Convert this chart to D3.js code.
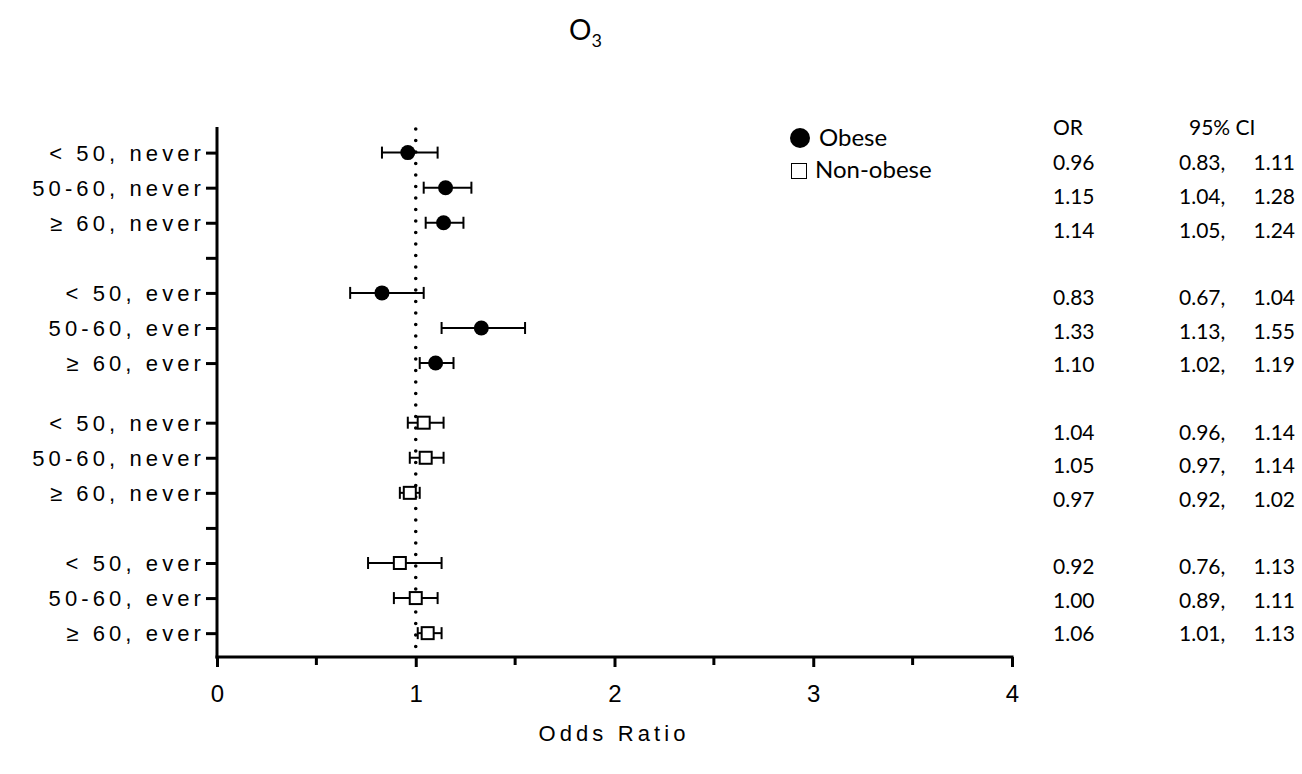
<!DOCTYPE html>
<html>
<head>
<meta charset="utf-8">
<script src="https://cdn.jsdelivr.net/npm/d3@7"></script>
<style>
	body { margin: 0; background: #fff; }
	svg text { fill: #000; }
	.axis-label { font-family: "Liberation Sans", Arial, sans-serif; font-size: 22px; letter-spacing: 4.1px; }
	.tab { font-family: Lato, "Open Sans", sans-serif; font-size: 21px; }
	.leg { font-family: Lato, "Open Sans", sans-serif; font-size: 24px; }
</style>
</head>
<body>
<div id="graphic"></div>
<script>
// rows, top to bottom, per group
const rowLabels = ["< 50, never", "50-60, never", "\u2265 60, never", "< 50, ever", "50-60, ever", "\u2265 60, ever"];
const groups = ["Obese", "Non-obese"];

// odds ratios and 95% CI per group, same row order as rowLabels
const obeseOR = [0.96, 1.15, 1.14, 0.83, 1.33, 1.10];
const obeseLo = [0.83, 1.04, 1.05, 0.67, 1.13, 1.02];
const obeseHi = [1.11, 1.28, 1.24, 1.04, 1.55, 1.19];

const nonObeseOR = [1.04, 1.05, 0.97, 0.92, 1.00, 1.06];
const nonObeseLo = [0.96, 0.97, 0.92, 0.76, 0.89, 1.01];
const nonObeseHi = [1.14, 1.14, 1.02, 1.13, 1.11, 1.13];

const xTicks = [0, 1, 2, 3, 4];
const xMinorTicks = [0.5, 1.5, 2.5, 3.5];

const width = 1302, height = 774;
const svg = d3.select('#graphic').append('svg').attr('width', width).attr('height', height);

// slot positions: blank slot between never/ever, wider gap between groups
let slots = [];
let blankSlots = [];
let s = 0;
const groupGap = 1.7;
groups.forEach((g, gi) => {
	const ors = gi == 0 ? obeseOR : nonObeseOR;
	const los = gi == 0 ? obeseLo : nonObeseLo;
	const his = gi == 0 ? obeseHi : nonObeseHi;
	rowLabels.forEach((lab, i) => {
		if (i == 3) { blankSlots.push(s); s += 1; }
		slots.push({ pos: s, label: lab, group: g, or: ors[i], lo: los[i], hi: his[i] });
		s += 1;
	});
	s += groupGap - 1;
});
// the table on the right runs on its own even spacing (one empty line per block of three)
slots.forEach((d, i) => { d.tabRow = i + Math.floor(i / 3); });

const x = d3.scaleLinear().domain([0, 4]).range([217, 1012]);
const y = d3.scaleLinear().domain([-0.73, 14.38]).range([127, 657]);
const yTab = d3.scaleLinear().domain([0, 14]).range([163, 634]);

// y axis
const yAxis = d3.axisLeft(y)
	.tickValues(slots.map(d => d.pos).concat(blankSlots))
	.tickSize(11)
	.tickPadding(1)
	.tickFormat(v => { const r = slots.find(d => d.pos === v); return r ? r.label : ''; });

const gy = svg.append('g').attr('transform', `translate(${x(0)},0)`).call(yAxis);
gy.select('.domain').attr('stroke-width', 3).attr('d', `M0,${y.range()[0]}V${y.range()[1] + 1.5}`);
gy.selectAll('.tick line').attr('stroke-width', 3);
gy.selectAll('.tick text').attr('class', 'axis-label').attr('dy', '0.35em');

// x axis
const xAxis = d3.axisBottom(x).tickValues(xTicks).tickSize(10).tickPadding(18).tickFormat(d3.format('d'));
const gx = svg.append('g').attr('transform', `translate(0,${y.range()[1]})`).call(xAxis);
gx.select('.domain').attr('stroke-width', 3).attr('d', `M${x(0) - 1.5},0H${x(4) + 1.5}`);
gx.selectAll('.tick line').attr('stroke-width', 3);
gx.selectAll('.tick text').attr('font-family', '"Liberation Sans Narrow", "Liberation Sans", Arial, sans-serif').attr('font-size', 24);

gx.selectAll('.minor').data(xMinorTicks).join('line')
	.attr('x1', d => x(d)).attr('x2', d => x(d))
	.attr('y1', 0).attr('y2', 8)
	.attr('stroke', '#000').attr('stroke-width', 3);

// reference line at OR = 1
svg.append('line')
	.attr('x1', x(1)).attr('x2', x(1))
	.attr('y1', y.range()[0] + 2).attr('y2', y.range()[1] - 2)
	.attr('stroke', '#000').attr('stroke-width', 3.6)
	.attr('stroke-linecap', 'round')
	.attr('stroke-dasharray', '0 11.5');

// error bars
const bars = svg.append('g').selectAll('g').data(slots).join('g')
	.attr('transform', d => `translate(0,${y(d.pos)})`);

bars.append('line')
	.attr('x1', d => x(d.lo)).attr('x2', d => x(d.hi))
	.attr('stroke', '#000').attr('stroke-width', 2);
bars.append('line')
	.attr('x1', d => x(d.lo)).attr('x2', d => x(d.lo)).attr('y1', -6).attr('y2', 6)
	.attr('stroke', '#000').attr('stroke-width', 2);
bars.append('line')
	.attr('x1', d => x(d.hi)).attr('x2', d => x(d.hi)).attr('y1', -6).attr('y2', 6)
	.attr('stroke', '#000').attr('stroke-width', 2);

bars.filter(d => d.group == 'Obese').append('circle')
	.attr('cx', d => x(d.or)).attr('r', 7.5).attr('fill', '#000');
bars.filter(d => d.group != 'Obese').append('rect')
	.attr('x', d => x(d.or) - 6).attr('y', -6).attr('width', 12).attr('height', 12)
	.attr('fill', '#fff').attr('stroke', '#000').attr('stroke-width', 2);

// legend
const legend = svg.append('g');
legend.append('circle').attr('cx', 800).attr('cy', 138).attr('r', 10).attr('fill', '#000');
legend.append('text').attr('class', 'leg').attr('x', 819).attr('y', 138).attr('dy', '0.35em').text(groups[0]);
legend.append('rect').attr('x', 791.5).attr('y', 163.5).attr('width', 15).attr('height', 15).attr('fill', '#fff').attr('stroke', '#000').attr('stroke-width', 1);
legend.append('text').attr('class', 'leg').attr('x', 815).attr('y', 170).attr('dy', '0.35em').text(groups[1]);

// table of OR and CI
const f = d3.format('.2f');
const tab = svg.append('g');
tab.append('text').attr('class', 'tab').attr('x', 1053).attr('y', 128).attr('dy', '0.35em').text('OR');
tab.append('text').attr('class', 'tab').attr('x', 1189).attr('y', 128).attr('dy', '0.35em').text('95% CI');
const rows = tab.selectAll('.row').data(slots).join('g')
	.attr('transform', d => `translate(0,${yTab(d.tabRow)})`);
rows.append('text').attr('class', 'tab').attr('x', 1053).attr('dy', '0.35em').text(d => f(d.or));
rows.append('text').attr('class', 'tab').attr('x', 1179).attr('dy', '0.35em').text(d => f(d.lo) + ',');
rows.append('text').attr('class', 'tab').attr('x', 1295).attr('dy', '0.35em').attr('text-anchor', 'end').text(d => f(d.hi));

// title
const title = svg.append('text').attr('x', 569).attr('y', 40).attr('font-family', 'Lato, sans-serif').attr('font-size', 28);
title.append('tspan').text('O');
title.append('tspan').attr('font-size', 18).attr('dy', 7).text('3');

// x axis title
svg.append('text').attr('class', 'axis-label').attr('x', 614).attr('y', 741).attr('text-anchor', 'middle').text('Odds Ratio');
</script>
</body>
</html>
